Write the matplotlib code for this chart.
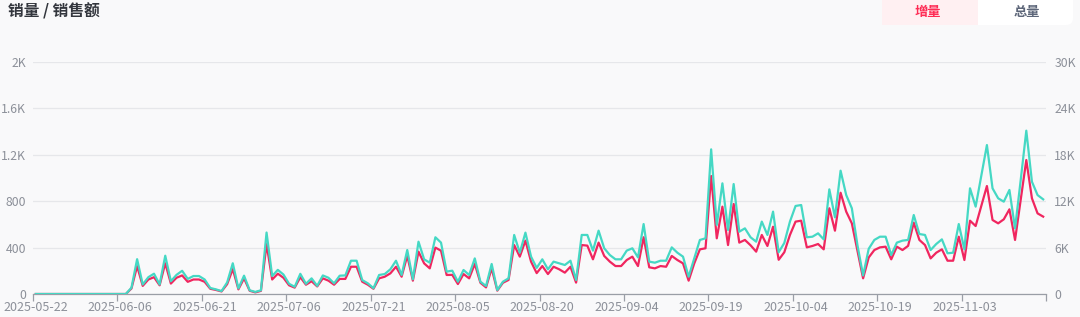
import numpy as np
import pandas as pd
import matplotlib
matplotlib.use('Agg')
import matplotlib.pyplot as plt
from matplotlib.patches import Rectangle, FancyBboxPatch

plt.rcParams['font.family'] = ['Noto Sans CJK SC', 'DejaVu Sans']

# daily data, 2025-05-22 onwards
start_date = '2025-05-22'

# 销量 (left axis)
qty = [0]*17 + [
    48, 240, 70, 125, 145, 75, 265, 90, 140, 160,
    105, 125, 125, 105, 45, 35, 22, 85, 215, 40,
    135, 28, 14, 27, 430, 125, 175, 140, 75, 55,
    145, 80, 110, 65, 135, 115, 80, 130, 130, 235,
    235, 106, 80, 45, 135, 149, 178, 235, 149, 330,
    115, 365, 264, 221, 400, 373, 164, 165, 86, 172,
    135, 259, 97, 57, 221, 29, 97, 121, 422, 322,
    460, 279, 180, 241, 172, 235, 213, 184, 235, 98,
    422, 417, 299, 443, 328, 279, 241, 241, 293, 322,
    241, 489, 230, 221, 241, 235, 328, 293, 264, 115,
    264, 385, 394, 1017, 480, 753, 422, 776, 443, 466,
    420, 365, 509, 414, 580, 295, 360, 509, 624, 632,
    402, 414, 431, 385, 739, 546, 873, 710, 609, 370,
    135, 315, 379, 402, 408, 299, 408, 379, 415, 615,
    466, 422, 307, 356, 385, 287, 287, 494, 293, 632,
    586, 760, 931, 638, 609, 644, 730, 466, 810, 1155,
    825, 695, 667]

# 销售额 (right axis)
amount = [0]*17 + [
    825, 4500, 1230, 2175, 2625, 1230, 4950, 1650, 2475, 3000,
    1950, 2325, 2325, 1875, 780, 600, 375, 1500, 3975, 720,
    2370, 480, 270, 480, 7950, 2325, 3120, 2520, 1320, 930,
    2610, 1320, 2025, 1050, 2400, 2100, 1380, 2370, 2400, 4305,
    4305, 1800, 1380, 750, 2460, 2580, 3195, 4305, 2460, 5685,
    1905, 6765, 4485, 4050, 7335, 6645, 2895, 3015, 1590, 3105,
    2460, 4605, 1590, 1035, 3885, 510, 1590, 2025, 7635, 5340,
    7935, 4830, 3375, 4485, 3195, 4185, 3960, 3750, 4305, 1815,
    7635, 7635, 5610, 8190, 5910, 5040, 4485, 4485, 5610, 5910,
    4740, 9045, 4185, 4050, 4305, 4305, 6030, 5340, 4830, 2235,
    4605, 6990, 7200, 18705, 8925, 14310, 8280, 14220, 8055, 8490,
    7335, 6765, 9360, 7635, 10650, 5400, 6600, 9360, 11385, 11505,
    7335, 7410, 7845, 7065, 13530, 9915, 15945, 12795, 11085, 6300,
    2400, 5850, 6990, 7410, 7410, 5040, 6645, 6900, 6990, 10215,
    7755, 7635, 5685, 6465, 7065, 5265, 5340, 9045, 5775, 13665,
    11295, 15300, 19260, 13665, 12375, 11940, 13455, 8490, 14700, 21120,
    14520, 12795, 12240]

left_ticks = [0, 400, 800, 1200, 1600, 2000]
left_labels = ['0', '400', '800', '1.2K', '1.6K', '2K']
right_ticks = [0, 6000, 12000, 18000, 24000, 30000]
right_labels = ['0', '6K', '12K', '18K', '24K', '30K']

dates = pd.date_range(start_date, periods=len(qty))
x = np.arange(len(qty))

bg = '#f9f9fa'
pink = '#f0265f'
teal = '#45d8c4'
label_col = '#8c9099'

fig = plt.figure(figsize=(10.8, 3.17), dpi=100, facecolor=bg)

# overlay in pixel units for the title and the toggle buttons
top = fig.add_axes([0, 0, 1, 1], zorder=3)
top.set_xlim(0, 1080)
top.set_ylim(317, 0)
top.axis('off')
top.patch.set_alpha(0)

ax = fig.add_axes([33/1080, 1 - 294/317, (1046 - 33)/1080, (294 - 62)/317])
ax.set_facecolor(bg)
ax2 = ax.twinx()

ax.plot(x, qty, color=pink, lw=1.6, solid_joinstyle='round')
ax2.plot(x, amount, color=teal, lw=1.6, solid_joinstyle='round')

ax.set_xlim(-0.5, len(qty) - 0.5)
ax.set_ylim(0, 2000)
ax2.set_ylim(0, 30000)

ax.set_yticks(left_ticks)
ax.set_yticklabels(left_labels)
ax2.set_yticks(right_ticks)
ax2.set_yticklabels(right_labels)
ax.grid(axis='y', color='#e6e7ea', lw=0.9)
ax.set_axisbelow(True)

# ticks on band boundaries, labels on band centres
ax.set_xticks(np.arange(-0.5, len(qty), 15))
ax.set_xticklabels([])
ax.set_xticks(np.arange(0, len(qty), 15), minor=True)
ax.set_xticklabels([d.strftime('%Y-%m-%d') for d in dates[::15]], minor=True)
ax.tick_params(axis='x', which='major', length=5, color='#9a9ea6', width=0.9)
ax.tick_params(axis='x', which='minor', length=0, pad=5, labelsize=9,
               labelcolor=label_col)
ax.tick_params(axis='y', length=0, pad=5, labelsize=8.8, labelcolor=label_col)
ax2.tick_params(axis='y', length=0, pad=6, labelsize=8.8, labelcolor=label_col)

for a in (ax, ax2):
    for s in ['top', 'left', 'right', 'bottom']:
        a.spines[s].set_visible(False)
ax.spines['bottom'].set_visible(True)
ax.spines['bottom'].set_color('#9a9ea6')
ax.spines['bottom'].set_linewidth(0.9)

top.text(8, 11, '销量 / 销售额', fontsize=11.3, fontweight='bold',
         color='#33363d', va='center', ha='left')

# toggle buttons
top.add_patch(FancyBboxPatch((882, -10), 191, 35,
                             boxstyle='round,pad=0,rounding_size=7',
                             facecolor='white', edgecolor='none'))
top.add_patch(Rectangle((882, 0), 96, 25, facecolor='#fff0f2',
                        edgecolor='none'))
top.text(928, 12, '增量', fontsize=9.5, fontweight='bold',
         color='#fe2c55', ha='center', va='center')
top.text(1027, 12, '总量', fontsize=9.5, fontweight='bold',
         color='#5d6679', ha='center', va='center')

fig.savefig('out.png', dpi=100, facecolor=bg)
